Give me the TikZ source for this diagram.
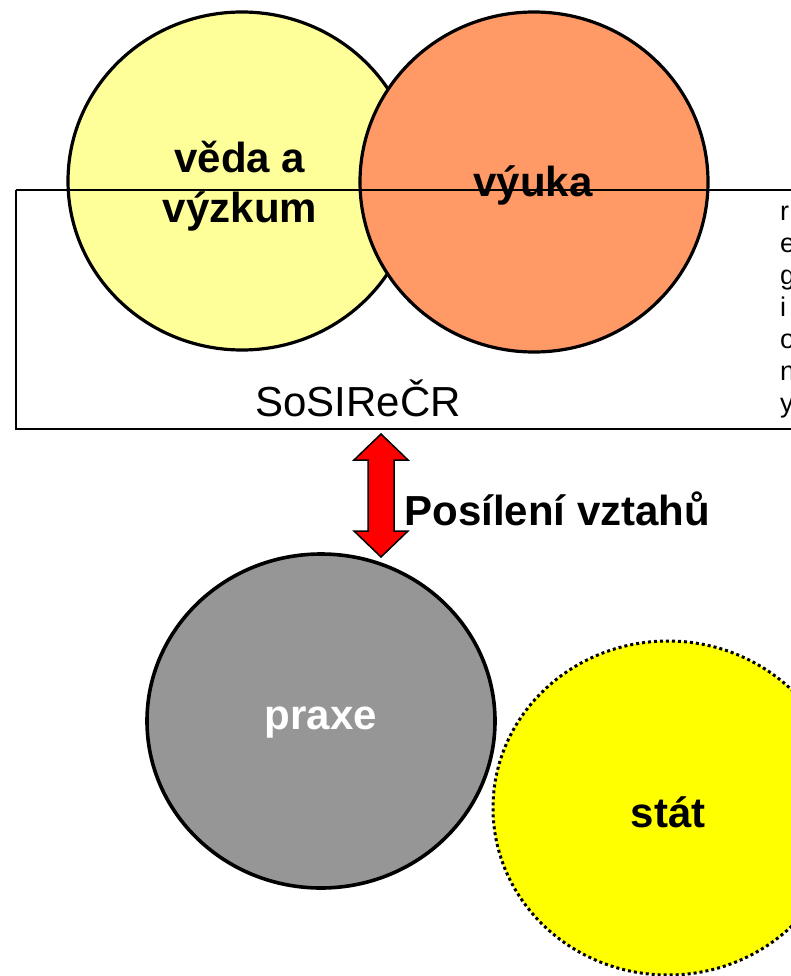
\documentclass[tikz,border=0pt]{standalone}
\usepackage{fontspec}
\setmainfont{Liberation Sans}
\begin{document}
\begin{tikzpicture}[x=1pt,y=-1pt,
  bubble/.style={line width=3.2pt},
  big/.style={font=\fontsize{42}{50}\selectfont\bfseries},
  plain/.style={font=\fontsize{42}{48}\selectfont}]
\useasboundingbox (0,0) rectangle (791,976);
\clip (0,0) rectangle (791,976);
\definecolor{lightyel}{HTML}{FFFF99}
\definecolor{salmon}{HTML}{FF9966}
\definecolor{grayc}{HTML}{969696}
\definecolor{pureyel}{HTML}{FFFF00}
% circles
\draw[bubble, fill=lightyel] (242,181) ellipse [x radius=174, y radius=169];
\draw[bubble, fill=salmon] (534,182) ellipse [x radius=174, y radius=170];
% box
\draw[line width=1.6pt] (16,190) -- (800,190);
\draw[line width=1.6pt] (800,429) -- (16,429) -- (16,190);
\node[big, align=center] (veda) at (240,186) {věda a\\výzkum};
\node[big] (vyuka) at (533,185) {výuka};
\node[plain] (sos) at (358,398) {SoSIReČR};
\node[font=\fontsize{27}{32}\selectfont, align=left, anchor=north west, inner sep=0pt] (reg) at (780,206) {r\\e\\g\\i\\o\\n\\y};
% praxe and stat
\draw[line width=3.6pt, fill=grayc] (321,721) ellipse [x radius=174, y radius=167];
\node[big, text=white] (praxe) at (321,723) {praxe};
\draw[line width=3pt, fill=pureyel, dash pattern=on 3pt off 3pt] (668,808) ellipse [x radius=175, y radius=167];
\node[big] (stat) at (668,812) {stát};
% arrow
\coordinate (at) at (381,434);
\coordinate (ab) at (381,557);
\draw[line width=1.5pt, fill=red, line join=miter]
  (381,434) -- (408,460) -- (394,460) -- (394,531) -- (408,531) -- (381,557)
  -- (354,531) -- (368,531) -- (368,460) -- (354,460) -- cycle;
\node[big, anchor=west] (pos) at (401,509) {Posílení vztahů};
\end{tikzpicture}
\end{document}
